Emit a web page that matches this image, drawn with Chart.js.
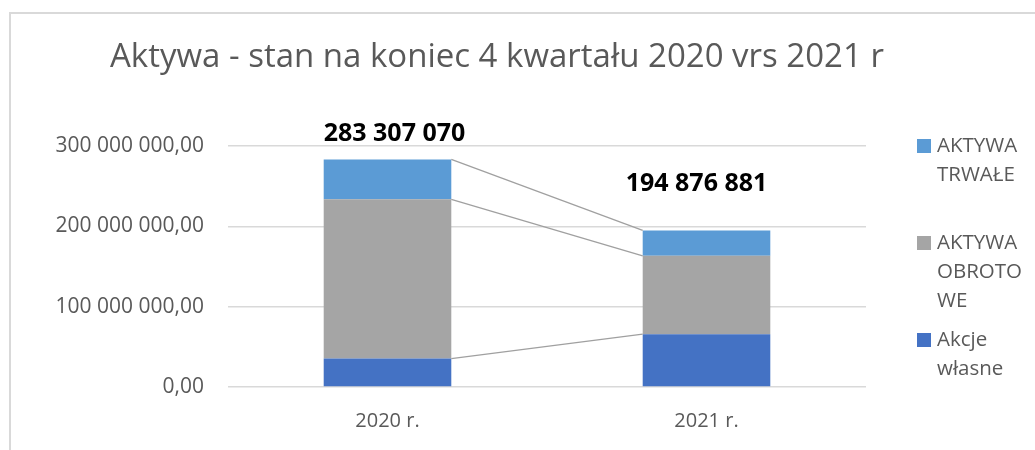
<!DOCTYPE html>
<html lang="pl">
<head>
<meta charset="utf-8">
<title>Aktywa 2020 vrs 2021</title>
<script src="https://cdn.jsdelivr.net/npm/chart.js@4.4.1/dist/chart.umd.min.js"></script>
<style>
    html, body { margin: 0; padding: 0; background: #fff; }
    #wrap { width: 1035px; height: 450px; position: relative; }
</style>
</head>
<body>
<div id="wrap"><canvas id="assetsChart" width="1035" height="450"></canvas></div>
<script>
const years = ['2020 r.', '2021 r.'];
const akcjeWlasne = [35400000, 65700000];
const aktywaObrotowe = [198300000, 97600000];
const aktywaTrwale = [49607070, 31576881];
const yTicks = [0, 100000000, 200000000, 300000000];

const FONT = "'Open Sans', sans-serif";
const TEXT = '#595959';

function formatAxis(v) {
    return Math.round(v).toString().replace(/\B(?=(\d{3})+(?!\d))/g, ' ') + ',00';
}
function formatTotal(v) {
    return Math.round(v).toString().replace(/\B(?=(\d{3})+(?!\d))/g, ' ');
}

// frame, title, legend, series lines and total labels
const decorPlugin = {
    id: 'decor',
    beforeDraw(chart) {
        const ctx = chart.ctx;
        ctx.save();
        ctx.fillStyle = '#fff';
        ctx.fillRect(0, 0, chart.width, chart.height);
        ctx.strokeStyle = '#d9d9d9';
        ctx.lineWidth = 2;
        ctx.beginPath();
        ctx.moveTo(10, chart.height);
        ctx.lineTo(10, 13);
        ctx.lineTo(chart.width, 13);
        ctx.stroke();
        ctx.restore();
    },
    afterDatasetsDraw(chart) {
        const ctx = chart.ctx;
        const metas = chart.data.datasets.map((d, i) => chart.getDatasetMeta(i));

        // series lines between bar stacks
        ctx.save();
        ctx.strokeStyle = '#a0a0a0';
        ctx.lineWidth = 1.3;
        metas.forEach(meta => {
            const a = meta.data[0], b = meta.data[1];
            ctx.beginPath();
            ctx.moveTo(a.x + a.width / 2, a.y);
            ctx.lineTo(b.x - b.width / 2, b.y);
            ctx.stroke();
        });
        ctx.restore();

        // totals above bars
        const top = metas[metas.length - 1];
        const offsets = [{ dx: 7, dy: -26 }, { dx: -10, dy: -47 }];
        ctx.save();
        ctx.font = 'bold 25px ' + FONT;
        ctx.fillStyle = '#000';
        ctx.textAlign = 'center';
        ctx.textBaseline = 'middle';
        years.forEach((y, i) => {
            const total = akcjeWlasne[i] + aktywaObrotowe[i] + aktywaTrwale[i];
            const el = top.data[i];
            ctx.fillText(formatTotal(total), el.x + offsets[i].dx, el.y + offsets[i].dy);
        });
        ctx.restore();
    },
    afterDraw(chart) {
        const ctx = chart.ctx;
        ctx.save();
        ctx.fillStyle = TEXT;
        ctx.font = '33px ' + FONT;
        ctx.textAlign = 'left';
        ctx.textBaseline = 'alphabetic';
        ctx.fillText('Aktywa - stan na koniec 4 kwartału 2020 vrs 2021 r', 110, 67);

        // legend, reversed order, wrapped text
        const entries = [
            { ds: 2, lines: ['AKTYWA', 'TRWAŁE'], y: 146 },
            { ds: 1, lines: ['AKTYWA', 'OBROTO', 'WE'], y: 243 },
            { ds: 0, lines: ['Akcje', 'własne'], y: 340 }
        ];
        ctx.font = '20.5px ' + FONT;
        ctx.textBaseline = 'middle';
        entries.forEach(e => {
            ctx.fillStyle = chart.data.datasets[e.ds].backgroundColor;
            ctx.fillRect(917, e.y - 7, 14, 14);
            ctx.fillStyle = TEXT;
            e.lines.forEach((t, k) => ctx.fillText(t, 937, e.y + k * 29));
        });
        ctx.restore();
    }
};

new Chart(document.getElementById('assetsChart'), {
    type: 'bar',
    data: {
        labels: years,
        datasets: [
            { label: 'Akcje własne', data: akcjeWlasne, backgroundColor: '#4472C4' },
            { label: 'AKTYWA OBROTOWE', data: aktywaObrotowe, backgroundColor: '#A5A5A5' },
            { label: 'AKTYWA TRWAŁE', data: aktywaTrwale, backgroundColor: '#5B9BD5' }
        ]
    },
    options: {
        responsive: false,
        animation: false,
        layout: { padding: { left: 0, top: 146, right: 169, bottom: 3 } },
        datasets: { bar: { categoryPercentage: 1, barPercentage: 0.4 } },
        plugins: {
            legend: { display: false },
            title: { display: false },
            tooltip: { enabled: false }
        },
        scales: {
            x: {
                stacked: true,
                grid: { display: false },
                border: { display: false },
                ticks: { color: TEXT, font: { family: FONT, size: 20 }, padding: 14 },
                afterFit(scale) { scale.height = 60; }
            },
            y: {
                stacked: true,
                min: 0,
                max: 300000000,
                afterBuildTicks(scale) { scale.ticks = yTicks.map(v => ({ value: v })); },
                grid: { color: '#d9d9d9', lineWidth: 1.5, drawTicks: false },
                border: { display: false },
                ticks: { color: TEXT, font: { family: FONT, size: 21 }, padding: 24, callback: formatAxis },
                afterFit(scale) { scale.width = 228; }
            }
        }
    },
    plugins: [decorPlugin]
});
</script>
</body>
</html>
